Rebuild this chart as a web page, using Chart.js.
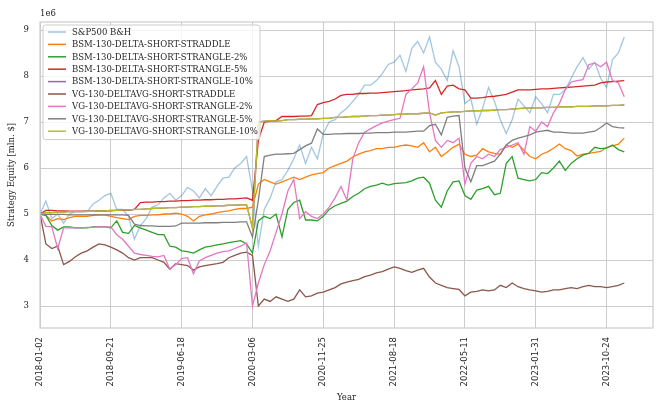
<!DOCTYPE html>
<html><head><meta charset="utf-8">
<script src="https://cdn.jsdelivr.net/npm/chart.js@4.4.1/dist/chart.umd.min.js"></script>
<style>html,body{margin:0;padding:0;background:#fff;}#wrap{width:664px;height:411px;}</style>
</head><body><div id="wrap"><canvas id="c" width="664" height="411"></canvas></div>
<script>
// x positions: trading-day row index of each sample
const dayIndex = [0,15,30,45,60,75,90,105,120,135,150,165,180,195,210,225,240,255,270,285,300,315,330,345,360,375,390,405,420,435,450,465,480,495,510,525,540,555,570,585,600,615,630,645,660,675,690,705,720,735,750,765,780,795,810,825,840,855,870,885,900,915,930,945,960,975,990,1005,1020,1035,1050,1065,1080,1095,1110,1125,1140,1155,1170,1185,1200,1215,1230,1245,1260,1275,1290,1305,1320,1335,1350,1365,1380,1395,1410,1425,1440,1455,1470,1485];
const tickIndex = [0,180,360,540,720,900,1080,1260,1440];
const tickLabels = ['2018-01-02','2018-09-21','2019-06-18','2020-03-06','2020-11-25','2021-08-18','2022-05-11','2023-01-31','2023-10-24'];
const yTicks = [3,4,5,6,7,8,9];
const seriesNames = ['S&P500 B&H','BSM-130-DELTA-SHORT-STRADDLE','BSM-130-DELTA-SHORT-STRANGLE-2%','BSM-130-DELTA-SHORT-STRANGLE-5%','BSM-130-DELTA-SHORT-STRANGLE-10%','VG-130-DELTAVG-SHORT-STRADDLE','VG-130-DELTAVG-SHORT-STRANGLE-2%','VG-130-DELTAVG-SHORT-STRANGLE-5%','VG-130-DELTAVG-SHORT-STRANGLE-10%'];
const seriesColors = ['rgba(31,119,180,0.42)','#ff7f0e','#2ca02c','#d62728','#9467bd','#8c564b','#e377c2','#7f7f7f','#bcbd22'];

const spx = [5.00,5.28,4.90,5.00,4.80,5.00,5.05,5.05,5.05,5.22,
 5.30,5.40,5.45,5.10,5.10,4.95,4.45,4.75,4.90,5.15,
 5.20,5.35,5.45,5.30,5.40,5.58,5.50,5.35,5.55,5.40,
 5.60,5.78,5.80,6.00,6.10,6.25,5.50,4.30,5.10,5.35,
 5.70,5.75,5.95,6.20,6.50,6.10,6.45,6.20,6.75,7.00,
 7.05,7.20,7.30,7.45,7.60,7.80,7.80,7.90,8.05,8.25,
 8.30,8.45,8.10,8.60,8.75,8.50,8.85,8.30,8.15,7.90,
 8.55,8.20,7.40,7.50,6.95,7.30,7.75,7.45,7.05,6.75,
 7.05,7.50,7.35,7.20,7.55,7.40,7.20,7.60,7.60,7.70,
 7.95,8.20,8.40,8.15,8.30,7.95,7.75,8.35,8.50,8.85];
const bsmStraddle = [5.00,4.97,4.85,4.90,4.88,4.92,4.95,4.95,4.95,4.97,
 4.98,4.98,4.95,4.92,4.90,4.88,4.95,4.97,4.97,4.98,
 4.98,5.00,5.00,5.02,5.00,4.95,4.85,4.95,4.98,5.00,
 5.03,5.05,5.07,5.10,5.12,5.12,5.15,5.65,5.75,5.70,
 5.65,5.70,5.75,5.80,5.75,5.80,5.85,5.88,5.90,6.00,
 6.05,6.10,6.15,6.24,6.30,6.35,6.38,6.42,6.42,6.45,
 6.45,6.48,6.50,6.48,6.45,6.55,6.35,6.45,6.25,6.35,
 6.45,6.52,6.30,6.25,6.28,6.42,6.35,6.32,6.30,6.50,
 6.45,6.52,6.38,6.25,6.20,6.30,6.35,6.43,6.52,6.42,
 6.38,6.26,6.30,6.32,6.34,6.36,6.45,6.48,6.52,6.65];
const bsmStrangle2 = [5.00,4.97,4.75,4.65,4.72,4.72,4.70,4.70,4.70,4.72,
 4.72,4.72,4.70,4.85,4.60,4.58,4.75,4.70,4.65,4.60,
 4.55,4.55,4.30,4.28,4.20,4.18,4.15,4.22,4.28,4.30,
 4.33,4.35,4.38,4.40,4.42,4.35,4.15,4.85,4.95,4.90,
 5.00,4.50,5.10,5.25,5.30,4.87,4.87,4.85,4.95,5.10,
 5.18,5.23,5.28,5.38,5.45,5.55,5.60,5.63,5.67,5.63,
 5.66,5.67,5.68,5.72,5.78,5.80,5.67,5.30,5.15,5.50,
 5.70,5.72,5.40,5.32,5.52,5.55,5.60,5.42,5.45,6.10,
 6.25,5.78,5.75,5.72,5.75,5.90,5.88,6.00,6.15,5.95,
 6.10,6.20,6.28,6.32,6.45,6.42,6.43,6.50,6.40,6.35];
const bsmStrangle5 = [5.00,5.08,5.08,5.07,5.07,5.06,5.06,5.06,5.06,5.06,
 5.07,5.07,5.07,5.08,5.08,5.08,5.10,5.25,5.26,5.26,
 5.27,5.27,5.28,5.28,5.29,5.29,5.30,5.30,5.31,5.31,
 5.32,5.32,5.33,5.33,5.34,5.35,5.30,6.60,7.00,7.02,
 7.03,7.12,7.12,7.12,7.13,7.13,7.14,7.38,7.42,7.45,
 7.50,7.58,7.60,7.60,7.62,7.62,7.63,7.63,7.64,7.65,
 7.66,7.67,7.68,7.70,7.71,7.72,7.74,7.90,7.60,7.78,
 7.80,7.72,7.70,7.52,7.52,7.53,7.55,7.56,7.58,7.60,
 7.65,7.70,7.70,7.70,7.71,7.72,7.72,7.73,7.74,7.75,
 7.76,7.77,7.78,7.79,7.80,7.85,7.87,7.88,7.89,7.90];
const bsmStrangle10 = [5.00,5.03,5.03,5.04,5.04,5.05,5.05,5.05,5.06,5.06,
 5.07,5.07,5.08,5.08,5.09,5.09,5.10,5.10,5.11,5.12,
 5.13,5.13,5.14,5.14,5.15,5.15,5.16,5.16,5.17,5.17,
 5.18,5.18,5.19,5.19,5.20,5.20,4.70,7.00,7.02,7.03,
 7.02,7.03,7.05,7.05,7.06,7.06,7.07,7.07,7.08,7.08,
 7.10,7.10,7.11,7.12,7.12,7.13,7.14,7.14,7.15,7.15,
 7.16,7.17,7.17,7.18,7.18,7.19,7.20,7.15,7.20,7.21,
 7.22,7.22,7.23,7.24,7.24,7.25,7.25,7.26,7.27,7.27,
 7.28,7.29,7.30,7.30,7.31,7.31,7.32,7.32,7.33,7.33,
 7.33,7.34,7.34,7.34,7.35,7.35,7.35,7.36,7.36,7.37];
const vgStraddle = [5.00,4.35,4.25,4.30,3.90,3.97,4.07,4.15,4.20,4.28,
 4.35,4.33,4.28,4.22,4.15,4.05,4.00,4.05,4.05,4.05,
 4.00,3.95,3.80,3.92,3.90,3.88,3.78,3.85,3.88,3.90,
 3.92,3.95,4.05,4.10,4.15,4.17,4.10,3.00,3.15,3.10,
 3.20,3.15,3.10,3.15,3.35,3.20,3.22,3.28,3.30,3.35,
 3.40,3.48,3.52,3.55,3.58,3.64,3.67,3.72,3.75,3.80,
 3.85,3.82,3.77,3.73,3.78,3.82,3.63,3.50,3.45,3.40,
 3.38,3.36,3.22,3.30,3.32,3.35,3.33,3.35,3.45,3.40,
 3.50,3.42,3.38,3.35,3.33,3.30,3.32,3.35,3.35,3.38,
 3.40,3.38,3.42,3.45,3.42,3.42,3.40,3.42,3.45,3.50];
const vgStrangle2 = [5.00,4.73,4.72,4.25,4.70,4.70,4.70,4.70,4.71,4.71,
 4.72,4.72,4.72,4.55,4.45,4.30,4.15,4.12,4.10,4.08,
 4.07,4.10,3.80,3.90,4.03,4.05,3.70,3.98,4.05,4.10,
 4.15,4.18,4.20,4.25,4.30,4.37,3.00,3.50,3.90,4.20,
 4.60,5.00,5.50,5.75,4.90,5.05,4.95,4.90,5.00,5.15,
 5.35,5.60,5.30,6.20,6.55,6.78,6.85,6.92,6.98,7.02,
 7.05,7.08,7.60,7.72,7.85,8.20,7.20,6.60,6.45,6.60,
 6.55,6.65,5.65,6.10,6.25,6.20,6.30,6.25,6.40,6.45,
 6.50,6.55,6.30,6.90,6.80,7.00,6.90,7.20,7.40,7.70,
 7.87,7.90,7.92,8.25,8.28,8.20,8.30,7.90,7.85,7.55];
const vgStrangle5 = [5.00,4.99,4.99,4.99,4.99,4.98,4.98,4.98,4.98,4.98,
 4.98,4.98,4.98,4.98,4.98,4.97,4.78,4.75,4.74,4.74,
 4.73,4.73,4.73,4.74,4.80,4.80,4.80,4.80,4.81,4.81,
 4.81,4.82,4.82,4.82,4.83,4.83,4.50,5.30,6.25,6.28,
 6.30,6.30,6.31,6.32,6.40,6.48,6.54,6.85,6.73,6.73,
 6.74,6.74,6.75,6.75,6.75,6.76,6.76,6.77,6.77,6.77,
 6.78,6.78,6.78,6.79,6.80,6.80,6.92,6.95,6.72,7.10,
 7.13,7.14,6.00,5.70,6.05,6.05,6.10,6.15,6.30,6.50,
 6.60,6.65,6.68,6.72,6.78,6.80,6.82,6.78,6.78,6.77,
 6.76,6.76,6.76,6.78,6.80,6.88,6.98,6.90,6.88,6.87];
const vgStrangle10 = [5.00,5.03,5.03,5.04,5.04,5.05,5.05,5.05,5.06,5.06,
 5.07,5.07,5.08,5.08,5.09,5.09,5.10,5.10,5.11,5.12,
 5.13,5.13,5.14,5.14,5.15,5.15,5.16,5.16,5.17,5.17,
 5.18,5.18,5.19,5.19,5.20,5.20,4.70,7.00,7.02,7.03,
 7.02,7.03,7.05,7.05,7.06,7.06,7.07,7.07,7.08,7.08,
 7.10,7.10,7.11,7.12,7.12,7.13,7.14,7.14,7.15,7.15,
 7.16,7.17,7.17,7.18,7.18,7.19,7.20,7.15,7.20,7.21,
 7.22,7.22,7.23,7.24,7.24,7.25,7.25,7.26,7.27,7.27,
 7.28,7.29,7.30,7.30,7.31,7.31,7.32,7.32,7.33,7.33,
 7.33,7.34,7.34,7.34,7.35,7.35,7.35,7.36,7.36,7.37];

const allSeries = [spx,bsmStraddle,bsmStrangle2,bsmStrangle5,bsmStrangle10,vgStraddle,vgStrangle2,vgStrangle5,vgStrangle10];
const TXT = '#262626', GRID = '#cccccc';
const SERIF = "'DejaVu Serif', serif";

const datasets = allSeries.map((arr, i) => ({
  label: seriesNames[i],
  data: arr.map((v, j) => ({x: dayIndex[j], y: v})),
  borderColor: seriesColors[i],
  backgroundColor: seriesColors[i],
  borderWidth: 1.3,
  pointRadius: 0,
  tension: 0,
  fill: false,
  order: allSeries.length - i
}));

const decor = {
  id: 'decor',
  afterDraw(chart) {
    const {ctx, chartArea: a} = chart;
    ctx.save();
    ctx.strokeStyle = GRID; ctx.lineWidth = 1.2;
    ctx.strokeRect(a.left, a.top, a.right - a.left, a.bottom - a.top);
    ctx.fillStyle = TXT; ctx.font = "8.5px " + SERIF;
    ctx.textBaseline = 'middle'; ctx.textAlign = 'left';
    ctx.fillText('1e6', a.left, a.top - 8);
    const lx = a.left + 3, ly = a.top + 3, lw = 217, rowH = 12.4;
    const lh = rowH * seriesNames.length + 3;
    ctx.beginPath();
    if (ctx.roundRect) ctx.roundRect(lx, ly, lw, lh, 2.5); else ctx.rect(lx, ly, lw, lh);
    ctx.fillStyle = 'rgba(255,255,255,0.8)'; ctx.fill();
    ctx.strokeStyle = GRID; ctx.lineWidth = 1; ctx.stroke();
    seriesNames.forEach((n, i) => {
      const y = ly + 7 + i * rowH;
      ctx.beginPath(); ctx.moveTo(lx + 5, y); ctx.lineTo(lx + 23, y);
      ctx.strokeStyle = seriesColors[i]; ctx.lineWidth = 1.5; ctx.stroke();
      ctx.fillStyle = TXT; ctx.fillText(n, lx + 29, y + 0.5);
    });
    ctx.restore();
  }
};

new Chart(document.getElementById('c'), {
  type: 'line',
  data: {datasets},
  plugins: [decor],
  options: {
    responsive: false, animation: false, devicePixelRatio: 1,
    layout: {padding: {top: 22, right: 11, left: 0, bottom: 0}},
    plugins: {legend: {display: false}, tooltip: {enabled: false}},
    scales: {
      x: {
        type: 'linear', min: 0, max: 1558,
        afterBuildTicks: s => { s.ticks = tickIndex.map(v => ({value: v})); },
        afterFit: s => { s.height = 83; },
        grid: {color: GRID, lineWidth: 1, drawTicks: false},
        border: {display: false},
        ticks: {
          autoSkip: false, maxRotation: 90, minRotation: 90, padding: 9, color: TXT,
          font: {family: "'DejaVu Sans', sans-serif", size: 8.5},
          callback: v => { const k = tickIndex.indexOf(v); return k >= 0 ? tickLabels[k] : ''; }
        },
        title: {display: true, text: 'Year', color: TXT, font: {family: SERIF, size: 8.5}, padding: {top: 0, bottom: 8}}
      },
      y: {
        min: 2.522, max: 9.174,
        afterBuildTicks: s => { s.ticks = yTicks.map(v => ({value: v})); },
        afterFit: s => { s.width = 40; },
        grid: {color: GRID, lineWidth: 1, drawTicks: false},
        border: {display: false},
        ticks: {padding: 11, color: TXT, font: {family: SERIF, size: 8.5}, callback: v => String(v)},
        title: {display: true, text: 'Strategy Equity [mln. $]', color: TXT, font: {family: SERIF, size: 8.5}, padding: {top: 7, bottom: 0}}
      }
    }
  }
});
</script></body></html>
